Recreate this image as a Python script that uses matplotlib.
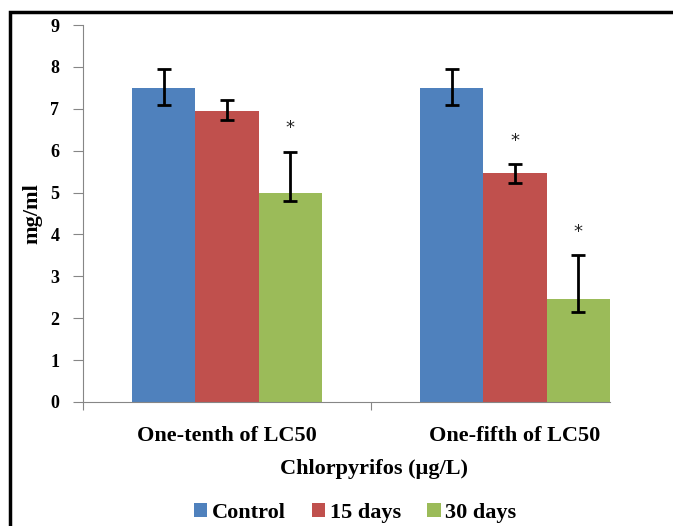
import numpy as np
import matplotlib.pyplot as plt
from matplotlib.patches import Rectangle, Patch

categories = ["One-tenth of LC50", "One-fifth of LC50"]
series = ["Control", "15 days", "30 days"]
values = [[7.50, 7.50], [6.95, 5.46], [4.98, 2.46]]
err_low = [[0.40, 0.40], [0.21, 0.22], [0.18, 0.30]]
err_high = [[0.44, 0.44], [0.25, 0.23], [1.00, 1.04]]
stars = [[False, False], [False, True], [True, True]]
colors = ["#4F81BD", "#C0504D", "#9BBB59"]

plt.rcParams['font.family'] = ['Liberation Serif', 'DejaVu Serif']

fig = plt.figure(figsize=(6.73, 5.26), dpi=100)
W, H = 673, 526
ax = fig.add_axes([83 / W, (H - 402) / H, (659 - 83) / W, (402 - 25) / H])

x = np.arange(len(categories))
w = 0.22
for i, s in enumerate(series):
    pos = x + (i - 1) * w
    ax.bar(pos, values[i], w, color=colors[i], edgecolor='none', label=s, zorder=2)
    ax.errorbar(pos, values[i], yerr=[err_low[i], err_high[i]], fmt='none',
                ecolor='black', elinewidth=2, capsize=5, capthick=2, zorder=3)
    for j in range(len(categories)):
        if stars[i][j]:
            ax.text(pos[j], values[i][j] + err_high[i][j] + 0.55, "*", ha='center',
                    va='center', fontsize=13, fontfamily='DejaVu Sans', color='#222222')

ax.set_xlim(-0.5, 1.5)
ax.set_ylim(0, 9)
ax.set_yticks(range(10))
ax.set_yticklabels([str(v) for v in range(10)], fontsize=13, fontweight='bold')
ax.set_xticks([-0.5, 0.5])
ax.set_xticklabels([])
ax.set_xticks(x, minor=True)
ax.set_xticklabels(categories, minor=True, fontsize=16, fontweight='bold')
ax.tick_params(axis='x', which='minor', length=0, pad=17)
ax.tick_params(axis='x', which='major', length=6, color='#868686', direction='out')
ax.tick_params(axis='y', length=7, color='#868686', direction='out', pad=10)

for side in ['top', 'right']:
    ax.spines[side].set_visible(False)
for side in ['left', 'bottom']:
    ax.spines[side].set_color('#868686')
ax.spines['bottom'].set_bounds(-0.5, 1 + 1.5 * w)

ax.set_ylabel("mg/ml", fontsize=16, fontweight='bold', labelpad=6)
fig.text(374 / W, 1 - 469 / H, "Chlorpyrifos (\u00b5g/L)", ha='center', va='center',
         fontsize=16, fontweight='bold')

handles = [Patch(facecolor=c) for c in colors]
fig.legend(handles, series, loc='center', bbox_to_anchor=(355 / W, 1 - 513 / H),
           ncol=3, frameon=False, prop={'size': 16, 'weight': 'bold'},
           handlelength=0.6, handleheight=0.6, handletextpad=0.2, columnspacing=1.2)

fig.add_artist(Rectangle((10 / W, -0.1), 1.2, 1 - 12 / H + 0.1, transform=fig.transFigure,
                         fill=False, edgecolor='black', linewidth=2.5))

fig.savefig("out.png", dpi=100)
